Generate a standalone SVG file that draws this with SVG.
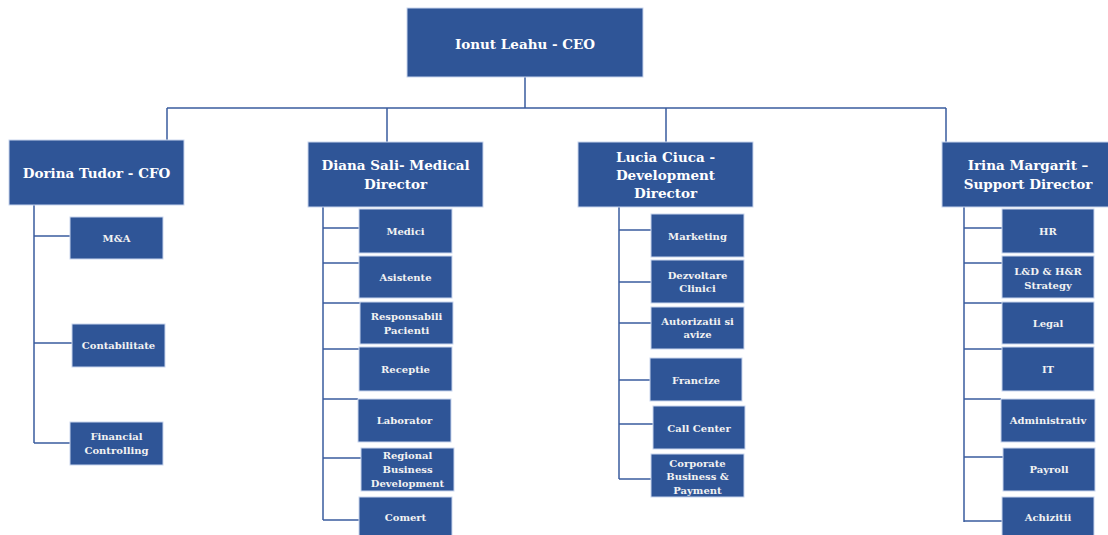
<svg xmlns="http://www.w3.org/2000/svg" width="1108" height="535" viewBox="0 0 1108 535">
<style>
.box{fill:#2F5597;stroke:#C9D6EE;stroke-width:1}
.hd{font-family:"DejaVu Serif","Liberation Serif",serif;font-weight:bold;font-size:13.5px;fill:#FFFFFF;text-anchor:middle}
.ch{font-family:"DejaVu Serif","Liberation Serif",serif;font-weight:bold;font-size:10px;fill:#F2F2F2;text-anchor:middle}
.ln{fill:none;stroke:#3A5C9E;stroke-width:1.5}
</style>
<rect width="1108" height="535" fill="#FFFFFF"/>
<g id="connectors" class="ln">
<path d="M525,77V108M167,108H946M167,108V140M387,108V142M666,108V142M946,108V142"/>
<path d="M34,205V443M34,236H70M34,343H72M34,443H70"/>
<path d="M323,207V520M323,228H359M323,263H359M323,303H360M323,349H359M323,399H358M323,458H361M323,520H359"/>
<path d="M619,207V479M619,230H651M619,282H651M619,323H651M619,380H650M619,424H653M619,479H651"/>
<path d="M964,207V522M964,228H1002M964,263H1002M964,303H1002M964,349H1002M964,399H1001M964,457H1003M964,521H1002"/>
</g>
<g id="ceo"><rect class="box" x="407" y="8" width="236" height="69"/><text class="hd" x="525" y="49">Ionut Leahu - CEO</text></g>
<g id="cfo"><rect class="box" x="9" y="140" width="175" height="65"/><text class="hd" x="96.5" y="177.5">Dorina Tudor - CFO</text></g>
<g id="medical"><rect class="box" x="308" y="142" width="175" height="65"/><text class="hd" x="395.5" y="170">Diana Sali- Medical<tspan x="395.5" dy="19">Director</tspan></text></g>
<g id="development"><rect class="box" x="578" y="142" width="175" height="65"/><text class="hd" x="665.5" y="162">Lucia Ciuca -<tspan x="665.5" dy="18">Development</tspan><tspan x="665.5" dy="18">Director</tspan></text></g>
<g id="support"><rect class="box" x="942" y="142" width="173" height="65"/><text class="hd" x="1028" y="170">Irina Margarit –<tspan x="1028" dy="19">Support Director</tspan></text></g>

<g id="ma"><rect class="box" x="70" y="217" width="93" height="42"/><text class="ch" x="116.5" y="241.5">M&amp;A</text></g>
<g id="contabilitate"><rect class="box" x="72" y="324" width="93" height="43"/><text class="ch" x="118.5" y="349">Contabilitate</text></g>
<g id="financial"><rect class="box" x="70" y="422" width="93" height="43"/><text class="ch" x="116.5" y="439.5">Financial<tspan x="116.5" dy="14">Controlling</tspan></text></g>

<g id="medici"><rect class="box" x="359" y="209" width="93" height="44"/><text class="ch" x="405.5" y="234.5">Medici</text></g>
<g id="asistente"><rect class="box" x="359" y="256" width="93" height="42"/><text class="ch" x="405.5" y="280.5">Asistente</text></g>
<g id="responsabili"><rect class="box" x="360" y="302" width="93" height="42"/><text class="ch" x="406.5" y="319.5">Responsabili<tspan x="406.5" dy="14">Pacienti</tspan></text></g>
<g id="receptie"><rect class="box" x="359" y="347" width="93" height="44"/><text class="ch" x="405.5" y="372.5">Receptie</text></g>
<g id="laborator"><rect class="box" x="358" y="399" width="93" height="43"/><text class="ch" x="404.5" y="424">Laborator</text></g>
<g id="regional"><rect class="box" x="361" y="448" width="93" height="43"/><text class="ch" x="407.5" y="458.5">Regional<tspan x="407.5" dy="14">Business</tspan><tspan x="407.5" dy="14">Development</tspan></text></g>
<g id="comert"><rect class="box" x="359" y="497" width="93" height="43"/><text class="ch" x="405.5" y="520.5">Comert</text></g>

<g id="marketing"><rect class="box" x="651" y="214" width="93" height="43"/><text class="ch" x="697.5" y="239.5">Marketing</text></g>
<g id="dezvoltare"><rect class="box" x="651" y="260" width="93" height="43"/><text class="ch" x="697.5" y="278.5">Dezvoltare<tspan x="697.5" dy="13">Clinici</tspan></text></g>
<g id="autorizatii"><rect class="box" x="651" y="307" width="93" height="42"/><text class="ch" x="697.5" y="324.5">Autorizatii si<tspan x="697.5" dy="13">avize</tspan></text></g>
<g id="francize"><rect class="box" x="650" y="358" width="92" height="43"/><text class="ch" x="696" y="383.5">Francize</text></g>
<g id="callcenter"><rect class="box" x="653" y="406" width="92" height="43"/><text class="ch" x="699" y="431.5">Call Center</text></g>
<g id="corporate"><rect class="box" x="651" y="454" width="93" height="43"/><text class="ch" x="697.5" y="466.5">Corporate<tspan x="697.5" dy="13.5">Business &amp;</tspan><tspan x="697.5" dy="13.5">Payment</tspan></text></g>

<g id="hr"><rect class="box" x="1002" y="209" width="92" height="44"/><text class="ch" x="1048" y="234.5">HR</text></g>
<g id="ld"><rect class="box" x="1002" y="256" width="92" height="42"/><text class="ch" x="1048" y="274.5">L&amp;D &amp; H&amp;R<tspan x="1048" dy="14">Strategy</tspan></text></g>
<g id="legal"><rect class="box" x="1002" y="302" width="92" height="42"/><text class="ch" x="1048" y="326.5">Legal</text></g>
<g id="it"><rect class="box" x="1002" y="347" width="92" height="44"/><text class="ch" x="1048" y="372.5">IT</text></g>
<g id="administrativ"><rect class="box" x="1001" y="399" width="94" height="43"/><text class="ch" x="1048" y="424">Administrativ</text></g>
<g id="payroll"><rect class="box" x="1003" y="448" width="92" height="43"/><text class="ch" x="1049" y="473">Payroll</text></g>
<g id="achizitii"><rect class="box" x="1002" y="497" width="92" height="43"/><text class="ch" x="1048" y="520.5">Achizitii</text></g>
</svg>
